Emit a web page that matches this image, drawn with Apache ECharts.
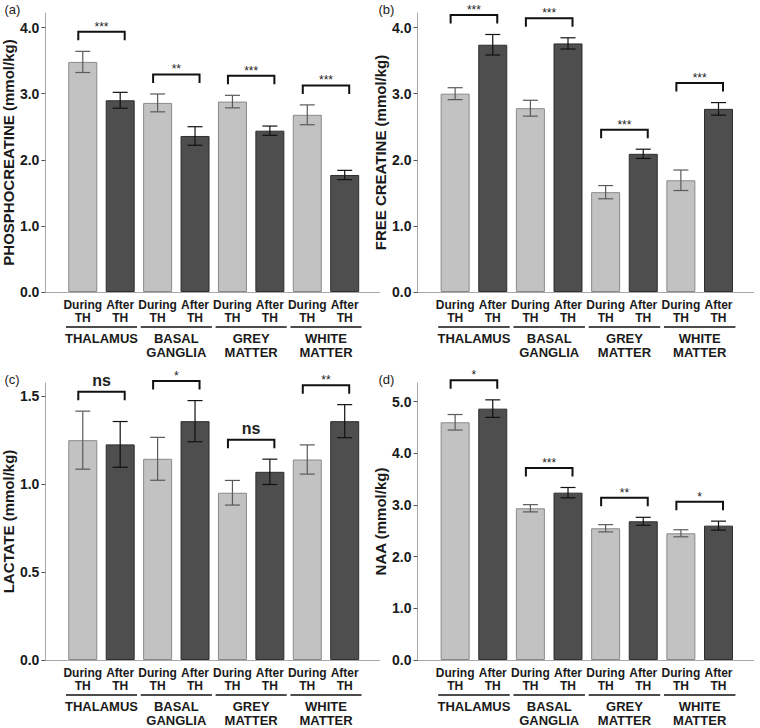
<!DOCTYPE html>
<html>
<head>
<meta charset="utf-8">
<script src="https://cdn.jsdelivr.net/npm/echarts@6/dist/echarts.min.js"></script>
<style>
  html, body { margin: 0; padding: 0; background: #ffffff; }
  #chart { width: 760px; height: 728px; }
</style>
</head>
<body>
<div id="chart"></div>
<script>
// bar labels and region groups
const categories = ['During\nTH', 'After\nTH', 'During\nTH', 'After\nTH', 'During\nTH', 'After\nTH', 'During\nTH', 'After\nTH'];
const regions = ['THALAMUS', 'BASAL\nGANGLIA', 'GREY\nMATTER', 'WHITE\nMATTER'];

// (a) phosphocreatine
const pcrMean = [3.48, 2.90, 2.86, 2.36, 2.88, 2.44, 2.68, 1.77];
const pcrErr = [0.16, 0.12, 0.135, 0.14, 0.095, 0.07, 0.15, 0.07];
const pcrSig = ['***', '**', '***', '***'];

// (b) free creatine
const crMean = [3.00, 3.74, 2.78, 3.76, 1.51, 2.09, 1.69, 2.77];
const crErr = [0.09, 0.155, 0.12, 0.085, 0.10, 0.07, 0.155, 0.095];
const crSig = ['***', '***', '***', '***'];

// (c) lactate
const lacMean = [1.25, 1.226, 1.144, 1.358, 0.951, 1.07, 1.14, 1.358];
const lacErr = [0.165, 0.13, 0.122, 0.117, 0.07, 0.072, 0.083, 0.094];
const lacSig = ['ns', '*', 'ns', '**'];

// (d) NAA
const naaMean = [4.60, 4.864, 2.936, 3.238, 2.549, 2.684, 2.452, 2.60];
const naaErr = [0.15, 0.17, 0.07, 0.10, 0.07, 0.077, 0.068, 0.087];
const naaSig = ['*', '***', '**', '*'];

const font = 'Liberation Sans, Arial, sans-serif';
const lightFill = '#c2c2c2', lightBorder = '#8a8a8a';
const darkFill = '#4e4e4e', darkBorder = '#2e2e2e';

const panels = [
  { tag: '(a)', name: 'PHOSPHOCREATINE (mmol/kg)', mean: pcrMean, err: pcrErr, sig: pcrSig, max: 4.22, step: 1, left: 43.5, top: 13, height: 279 },
  { tag: '(b)', name: 'FREE CREATINE (mmol/kg)', mean: crMean, err: crErr, sig: crSig, max: 4.22, step: 1, left: 417.5, top: 13, height: 279 },
  { tag: '(c)', name: 'LACTATE (mmol/kg)', mean: lacMean, err: lacErr, sig: lacSig, max: 1.575, step: 0.5, left: 43.5, top: 383, height: 277 },
  { tag: '(d)', name: 'NAA (mmol/kg)', mean: naaMean, err: naaErr, sig: naaSig, max: 5.36, step: 1, left: 417.5, top: 383, height: 277 }
];

const chart = echarts.init(document.getElementById('chart'), null, { renderer: 'svg' });

const grid = [], xAxis = [], yAxis = [], series = [], title = [];

panels.forEach((p, n) => {
  grid.push({ left: p.left, top: p.top, width: 336, height: p.height });
  title.push({
    text: p.tag, left: p.left - 39, top: p.top - 10, padding: 0,
    textStyle: { fontFamily: font, fontSize: 13, fontWeight: 'normal', color: '#222' }
  });
  xAxis.push({
    gridIndex: n, type: 'value', min: 0, max: 8.93, interval: 1,
    splitLine: { show: false },
    axisTick: { show: false },
    axisLine: { lineStyle: { color: '#a8a8a8', width: 1 } },
    axisLabel: {
      margin: 6, fontFamily: font, fontSize: 12, fontWeight: 'bold', color: '#1a1a1a', lineHeight: 13.5,
      formatter: v => (v >= 1 && v <= 8 && v % 1 === 0) ? categories[v - 1] : ''
    }
  });
  yAxis.push({
    gridIndex: n, type: 'value', min: 0, max: p.max, interval: p.step,
    name: p.name, nameLocation: 'middle', nameGap: 28,
    nameTextStyle: { fontFamily: font, fontSize: 15, fontWeight: 'bold', color: '#1a1a1a' },
    splitLine: { show: false },
    axisTick: { show: true, length: 4, lineStyle: { color: '#555' } },
    axisLine: { show: true, lineStyle: { color: '#a8a8a8', width: 1 } },
    axisLabel: {
      margin: 6, fontFamily: font, fontSize: 14, fontWeight: 'bold', color: '#1a1a1a',
      showMaxLabel: false,
      formatter: v => v.toFixed(1)
    }
  });

  // bars
  series.push({
    type: 'bar', xAxisIndex: n, yAxisIndex: n, barWidth: 29,
    data: p.mean.map((v, i) => ({
      value: [i + 1, v],
      itemStyle: {
        color: i % 2 === 0 ? lightFill : darkFill,
        borderColor: i % 2 === 0 ? lightBorder : darkBorder,
        borderWidth: 1
      }
    }))
  });

  // error bars
  series.push({
    type: 'custom', xAxisIndex: n, yAxisIndex: n, clip: false, z: 5,
    encode: { x: 0, y: [1, 2] },
    data: p.mean.map((v, i) => [i + 1, v - p.err[i], v + p.err[i]]),
    renderItem: (params, api) => {
      const hi = api.coord([api.value(0), api.value(2)]);
      const lo = api.coord([api.value(0), api.value(1)]);
      const col = params.dataIndex % 2 === 0 ? '#5a5a5a' : '#111';
      const st = { stroke: col, lineWidth: 1.2 };
      return {
        type: 'group',
        children: [
          { type: 'line', shape: { x1: hi[0], y1: hi[1], x2: lo[0], y2: lo[1] }, style: st },
          { type: 'line', shape: { x1: hi[0] - 7.5, y1: hi[1], x2: hi[0] + 7.5, y2: hi[1] }, style: st },
          { type: 'line', shape: { x1: lo[0] - 7.5, y1: lo[1], x2: lo[0] + 7.5, y2: lo[1] }, style: st }
        ]
      };
    }
  });

  // significance brackets
  series.push({
    type: 'custom', xAxisIndex: n, yAxisIndex: n, clip: false, z: 6,
    encode: { x: 0, y: 1 },
    data: p.sig.map((s, k) => [2 * k + 1.5, 0]),
    renderItem: (params, api) => {
      const k = params.dataIndex;
      const a = 2 * k, b = 2 * k + 1;
      const top = Math.max(p.mean[a] + p.err[a], p.mean[b] + p.err[b]);
      const pa = api.coord([a + 1, top]);
      const pb = api.coord([b + 1, top]);
      const legBottom = pa[1] - 11;
      const h = legBottom - 8.5;
      const x1 = pa[0] - 4.5, x2 = pb[0] + 4.5;
      const isNs = p.sig[k] === 'ns';
      return {
        type: 'group',
        children: [
          {
            type: 'polyline',
            shape: { points: [[x1, legBottom], [x1, h], [x2, h], [x2, legBottom]] },
            style: { stroke: '#111', lineWidth: 2, fill: null }
          },
          {
            type: 'text',
            style: {
              text: p.sig[k], x: (x1 + x2) / 2, y: isNs ? h - 3 : h + 1,
              align: 'center', verticalAlign: 'bottom',
              font: isNs ? 'bold 16px ' + font : 'normal 12px ' + font,
              fill: '#222'
            }
          }
        ]
      };
    }
  });

  // region groups under the axis: underline + one text per line
  series.push({
    type: 'custom', xAxisIndex: n, yAxisIndex: n, clip: false, z: 6,
    encode: { x: 0, y: 1 },
    data: regions.map((r, k) => [2 * k + 1.5, 0]),
    renderItem: (params, api) => {
      const k = params.dataIndex;
      const l = api.coord([2 * k + 0.55, 0]);
      const r = api.coord([2 * k + 2.45, 0]);
      const y = l[1] + 35;
      const cx = (l[0] + r[0]) / 2;
      const children = [
        { type: 'line', shape: { x1: l[0], y1: y, x2: r[0], y2: y }, style: { stroke: '#111', lineWidth: 1.6 } }
      ];
      regions[k].split('\n').forEach((line, j) => {
        children.push({
          type: 'text',
          style: {
            text: line, x: cx, y: y + 11.5 + j * 14,
            align: 'center', verticalAlign: 'middle',
            font: 'bold 13px ' + font, fill: '#1a1a1a'
          }
        });
      });
      return { type: 'group', children: children };
    }
  });
});

chart.setOption({
  backgroundColor: '#ffffff',
  animation: false,
  title: title,
  grid: grid,
  xAxis: xAxis,
  yAxis: yAxis,
  series: series
});
</script>
</body>
</html>
